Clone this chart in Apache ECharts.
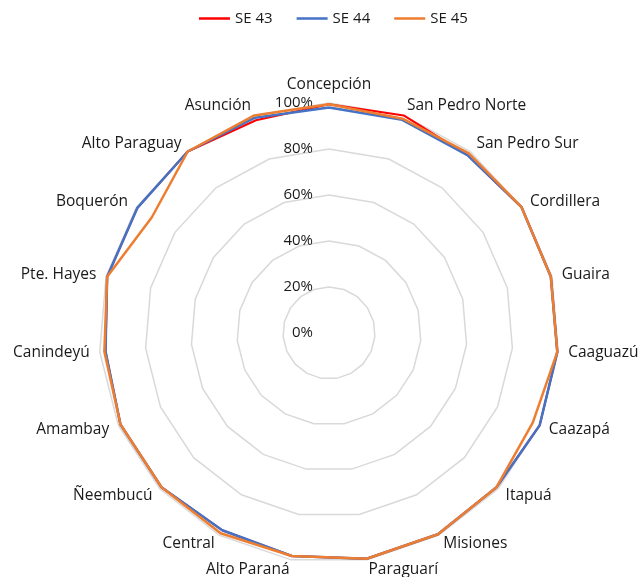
<!DOCTYPE html>
<html>
<head>
<meta charset="utf-8">
<script src="https://cdn.jsdelivr.net/npm/echarts@6/dist/echarts.min.js"></script>
<style>
html,body{margin:0;padding:0;background:#fff;}
#c{width:642px;height:577px;}
</style>
</head>
<body>
<div id="c"></div>
<script>
var categories = ['Concepción','San Pedro Norte','San Pedro Sur','Cordillera','Guaira','Caaguazú','Caazapá','Itapuá','Misiones','Paraguarí','Alto Paraná','Central','Ñeembucú','Amambay','Canindeyú','Pte. Hayes','Boquerón','Alto Paraguay','Asunción'];
var seriesNames = ['SE 43','SE 44','SE 45'];
var se43 = [99.5, 100, 98, 100, 99.5, 99.6, 100, 99, 99.5, 99.5, 98.3, 97.5, 99, 99, 97.5, 99.5, 99.5, 100, 97.8];
var se44 = [98, 98, 98, 100, 99.5, 99.6, 100, 99, 99.5, 99.5, 98.3, 97.5, 99, 99, 97.5, 99.5, 99.5, 100, 99];
var se45 = [99.5, 98.5, 99, 100, 99.5, 99.6, 96.8, 99, 99.5, 99.5, 98.3, 99, 99, 99, 98, 99.5, 92, 100, 100];
var axisMin = 0, axisMax = 100, axisStep = 20;

// ECharts radar runs counter-clockwise; reorder so categories run clockwise
function cw(arr) { return [arr[0]].concat(arr.slice(1).reverse()); }

var font = 'Open Sans';
var indicators = cw(categories).map(function (n, i) {
  var o = { name: n, min: axisMin, max: axisMax };
  if (i === 0) o.axisLabel = { show: true };
  return o;
});
var chart = echarts.init(document.getElementById('c'));
chart.setOption({
  animation: false,
  backgroundColor: '#fff',
  color: ['#FF0000', '#4472C4', '#ED7D31'],
  legend: {
    top: 6, left: 194,
    icon: 'rect',
    itemWidth: 31, itemHeight: 2.5, itemGap: 24,
    textStyle: { fontFamily: font, fontSize: 15, color: '#1a1a1a' },
    data: seriesNames
  },
  radar: {
    center: [329, 333],
    radius: 230,
    startAngle: 90,
    splitNumber: (axisMax - axisMin) / axisStep,
    shape: 'polygon',
    indicator: indicators,
    axisName: { color: '#1a1a1a', fontFamily: font, fontSize: 15.5 },
    nameGap: 10,
    axisLine: { show: false },
    axisTick: { show: false },
    splitArea: { show: false },
    splitLine: { lineStyle: { color: '#d9d9d9', width: 1.5 } },
    axisLabel: {
      show: false,
      color: '#1a1a1a', fontFamily: font, fontSize: 15, margin: 16,
      formatter: function (v) { return Math.round(v) + '%'; }
    }
  },
  series: [{
    type: 'radar',
    symbol: 'none',
    data: [
      { name: seriesNames[0], value: cw(se43), lineStyle: { color: '#FF0000', width: 2 } },
      { name: seriesNames[1], value: cw(se44), lineStyle: { color: '#4472C4', width: 2.5 } },
      { name: seriesNames[2], value: cw(se45), lineStyle: { color: '#ED7D31', width: 2.5 } }
    ]
  }]
});
</script>
</body>
</html>
